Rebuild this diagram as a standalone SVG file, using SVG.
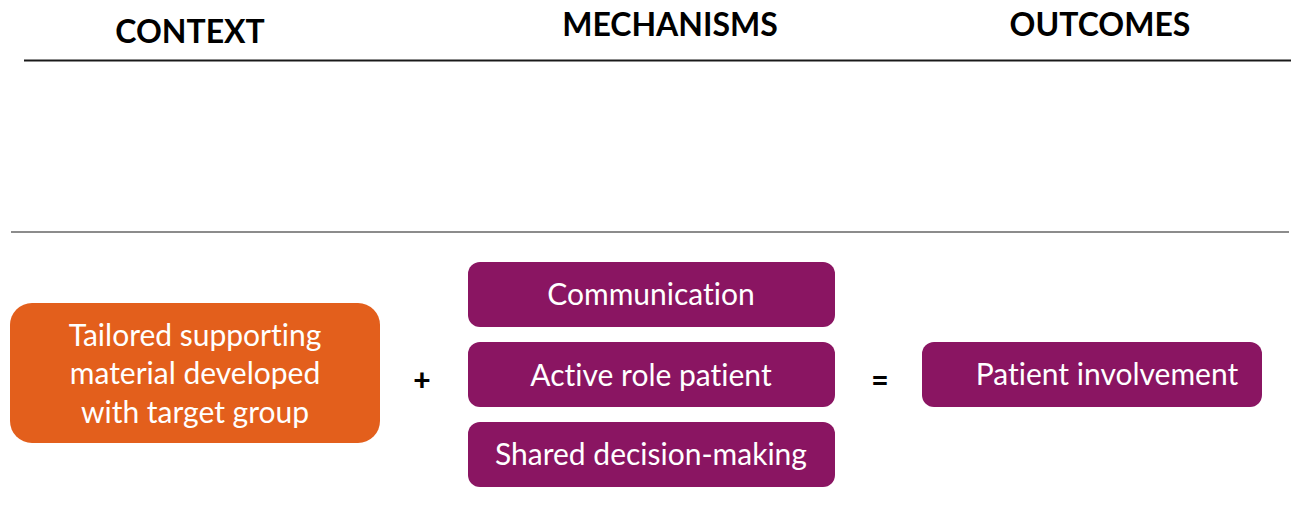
<svg xmlns="http://www.w3.org/2000/svg" width="1291" height="510" viewBox="0 0 1291 510">
<style>
text{font-variant-ligatures:none;font-feature-settings:"liga" 0,"dlig" 0}
.hdr{font-family:Lato,"Open Sans",sans-serif;font-weight:bold;font-size:32px;fill:#000;text-anchor:middle}
.lbl{font-family:Lato,"Open Sans",sans-serif;font-size:30px;fill:#fff;text-anchor:middle}
.op{font-family:Lato,"Open Sans",sans-serif;font-weight:900;font-size:30px;fill:#000;text-anchor:middle}
.purple{fill:#8A1562}
</style>
<rect width="1291" height="510" fill="#fff"/>
<text class="hdr" x="190" y="43">CONTEXT</text>
<text class="hdr" x="670" y="36">MECHANISMS</text>
<text class="hdr" x="1100" y="36">OUTCOMES</text>
<line x1="24" y1="60.5" x2="1291" y2="60.5" stroke="#1a1a1a" stroke-width="2"/>
<line x1="11" y1="232" x2="1289" y2="232" stroke="#8c8c8c" stroke-width="2"/>
<g id="context">
<rect x="10" y="303" width="370" height="140" rx="22" fill="#E35F1C"/>
<text class="lbl" x="195" y="346">Tailored supporting</text>
<text class="lbl" x="195" y="384">material developed</text>
<text class="lbl" x="195" y="423">with target group</text>
</g>
<g id="plus"><text class="op" x="422" y="391">+</text></g>
<g id="communication">
<rect class="purple" x="468" y="262" width="367" height="65" rx="12"/>
<text class="lbl" x="651" y="305">Communication</text>
</g>
<g id="active-role">
<rect class="purple" x="468" y="342" width="367" height="65" rx="12"/>
<text class="lbl" x="651" y="386">Active role patient</text>
</g>
<g id="shared-decision">
<rect class="purple" x="468" y="422" width="367" height="65" rx="12"/>
<text class="lbl" x="651" y="465">Shared decision-making</text>
</g>
<g id="equals"><text class="op" x="880" y="391">=</text></g>
<g id="outcome">
<rect class="purple" x="922" y="342" width="340" height="65" rx="12"/>
<text class="lbl" x="1107" y="385">Patient involvement</text>
</g>
<g id="connectors"></g>
</svg>
